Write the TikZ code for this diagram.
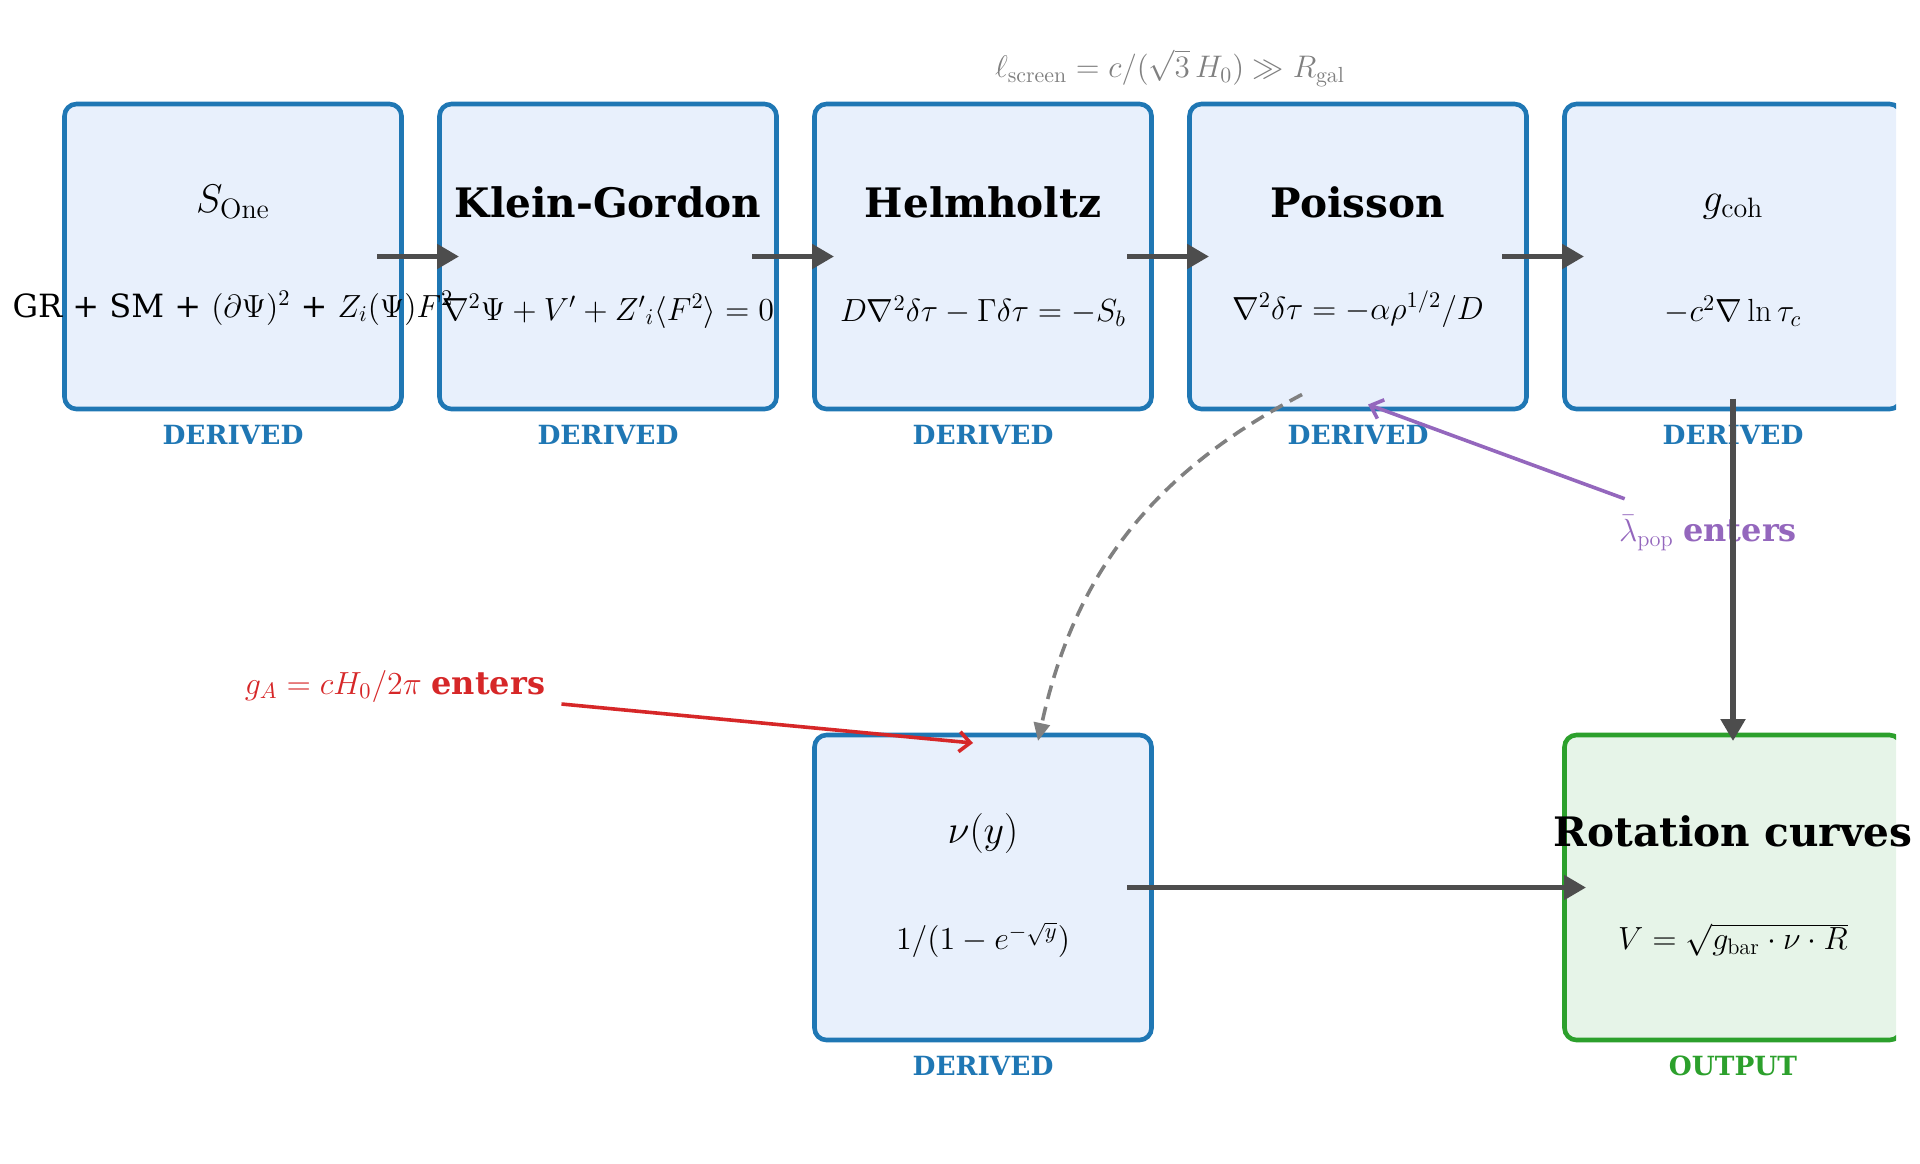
\RequirePackage{fix-cm}
\documentclass[tikz,border=0pt]{standalone}
\usepackage{fontspec}
\newfontfamily\dvs{DejaVu Serif}
\usetikzlibrary{arrows.meta,calc}
\definecolor{tblue}{HTML}{1F77B4}
\definecolor{bfill}{HTML}{E8F0FC}
\definecolor{tgreen}{HTML}{2CA02C}
\definecolor{gfill}{HTML}{E6F4E8}
\definecolor{dgray}{HTML}{4D4D4D}
\definecolor{tpurple}{HTML}{9467BD}
\definecolor{tred}{HTML}{D62728}
\definecolor{mgray}{HTML}{808080}
\tikzset{
  box/.style={draw=tblue, fill=bfill, line width=2.3pt, rounded corners=6pt,
    minimum width=168.5pt, minimum height=152.5pt, outer sep=0pt, inner sep=0pt},
  gbox/.style={box, draw=tgreen, fill=gfill},
  ttl/.style={font=\dvs\bfseries\fontsize{20.3}{24}\selectfont, inner sep=0pt},
  mttl/.style={font=\fontsize{20}{24}\selectfont, inner sep=0pt},
  frm/.style={font=\fontsize{16}{20}\selectfont, inner sep=0pt},
  tag/.style={font=\dvs\bfseries\fontsize{13.2}{16}\selectfont, text=tblue, inner sep=0pt},
  darr/.style={draw=dgray, line width=2.6pt, -{Triangle[length=11pt,width=12pt]}},
  dasharr/.style={draw=mgray, line width=1.8pt, dash pattern=on 7pt off 4pt,
    -{Triangle[length=9pt,width=8pt]}},
  barb/.style={line width=1.8pt, -{Straight Barb[length=5.5pt,width=10pt]}},
}
\begin{document}
\begin{tikzpicture}[x=0.5pt,y=-0.5pt]
\useasboundingbox (0,0) rectangle (1920,1163);
\begin{scope}
\clip (0,0) rectangle (1896,1163);
\node[box] (s1) at (233,256.5) {};
\node[box] (s2) at (608,256.5) {};
\node[box] (s3) at (983,256.5) {};
\node[box] (s4) at (1358,256.5) {};
\node[box] (s5) at (1733,256.5) {};
\node[box] (nu) at (983,887.5) {};
\node[gbox] (rot) at (1733,887.5) {};
\end{scope}

% titles
\node[mttl] (t1) at (233,202) {$S_{\mathrm{One}}$};
\node[ttl] (t2) at (608,202) {Klein-Gordon};
\node[ttl] (t3) at (983,202) {Helmholtz};
\node[ttl] (t4) at (1358,202) {Poisson};
\node[mttl] (t5) at (1733,207) {$g_{\mathrm{coh}}$};
\node[mttl] (t6) at (983,833) {$\nu(y)$};
\node[ttl] (t7) at (1733,831) {Rotation curves};

% formulas
\node[frm] (f1) at (233,308) {\dvs GR + SM + $(\partial\Psi)^2$ + $Z_i(\Psi)F^2$};
\node[frm] (f2) at (608,311) {$\nabla^2\Psi+V'+Z'{}_i\langle F^2\rangle=0$};
\node[frm] (f3) at (983,311) {$D\nabla^2\delta\tau-\Gamma\delta\tau=-S_b$};
\node[frm] (f4) at (1358,309) {$\nabla^2\delta\tau=-\alpha\rho^{1/2}/D$};
\node[frm] (f5) at (1733,311) {$-c^2\nabla\ln\tau_c$};
\node[frm] (f6) at (983,940) {$1/(1-e^{-\sqrt{y}})$};
\node[frm] (f7) at (1733,940) {$V=\sqrt{g_{\mathrm{bar}}\cdot\nu\cdot R}$};

% tags
\node[tag] (d1) at (233,435) {DERIVED};
\node[tag] (d2) at (608,435) {DERIVED};
\node[tag] (d3) at (983,435) {DERIVED};
\node[tag] (d4) at (1358,435) {DERIVED};
\node[tag] (d5) at (1733,435) {DERIVED};
\node[tag] (d6) at (983,1066) {DERIVED};
\node[tag, text=tgreen] (d7) at (1733,1066) {OUTPUT};

% top note
\node[font=\fontsize{15.6}{20}\selectfont, text=mgray, inner sep=0pt] (scr) at (1170,68)
  {$\ell_{\mathrm{screen}}=c/(\sqrt{3}\,H_0)\gg R_{\mathrm{gal}}$};

% side labels
\node[font=\fontsize{16}{20}\selectfont, text=tred, inner sep=0pt] (gA) at (395,686)
  {$g_A=cH_0/2\pi$ {\dvs\bfseries enters}};
\node[font=\fontsize{16}{20}\selectfont, text=tpurple, inner sep=0pt] (lam) at (1708,533)
  {$\bar\lambda_{\mathrm{pop}}$ {\dvs\bfseries enters}};

% main chain arrows
\draw[darr] ([xshift=-12.25pt]s1.east) -- ([xshift=9.75pt]s2.west);
\draw[darr] ([xshift=-12.25pt]s2.east) -- ([xshift=9.75pt]s3.west);
\draw[darr] ([xshift=-12.25pt]s3.east) -- ([xshift=9.75pt]s4.west);
\draw[darr] ([xshift=-12.25pt]s4.east) -- ([xshift=9.75pt]s5.west);
\draw[darr] ([yshift=5.25pt]s5.south) -- ([yshift=-3pt]rot.north);
\draw[darr] ([xshift=-12.25pt]nu.east) -- ([xshift=10.75pt]rot.west);

% dashed curve
\draw[dasharr] ([xshift=-28pt,yshift=7.25pt]s4.south) to[bend right=25] ([xshift=27.5pt,yshift=-3pt]nu.north);

% purple and red arrows
\draw[barb, tpurple] ([xshift=3pt,yshift=8pt]lam.north west) -- ([xshift=5pt,yshift=2.25pt]s4.south);
\draw[barb, tred] ([xshift=8pt,yshift=-9pt]gA.east) -- ([xshift=-5pt,yshift=-4pt]nu.north);
\end{tikzpicture}
\end{document}
